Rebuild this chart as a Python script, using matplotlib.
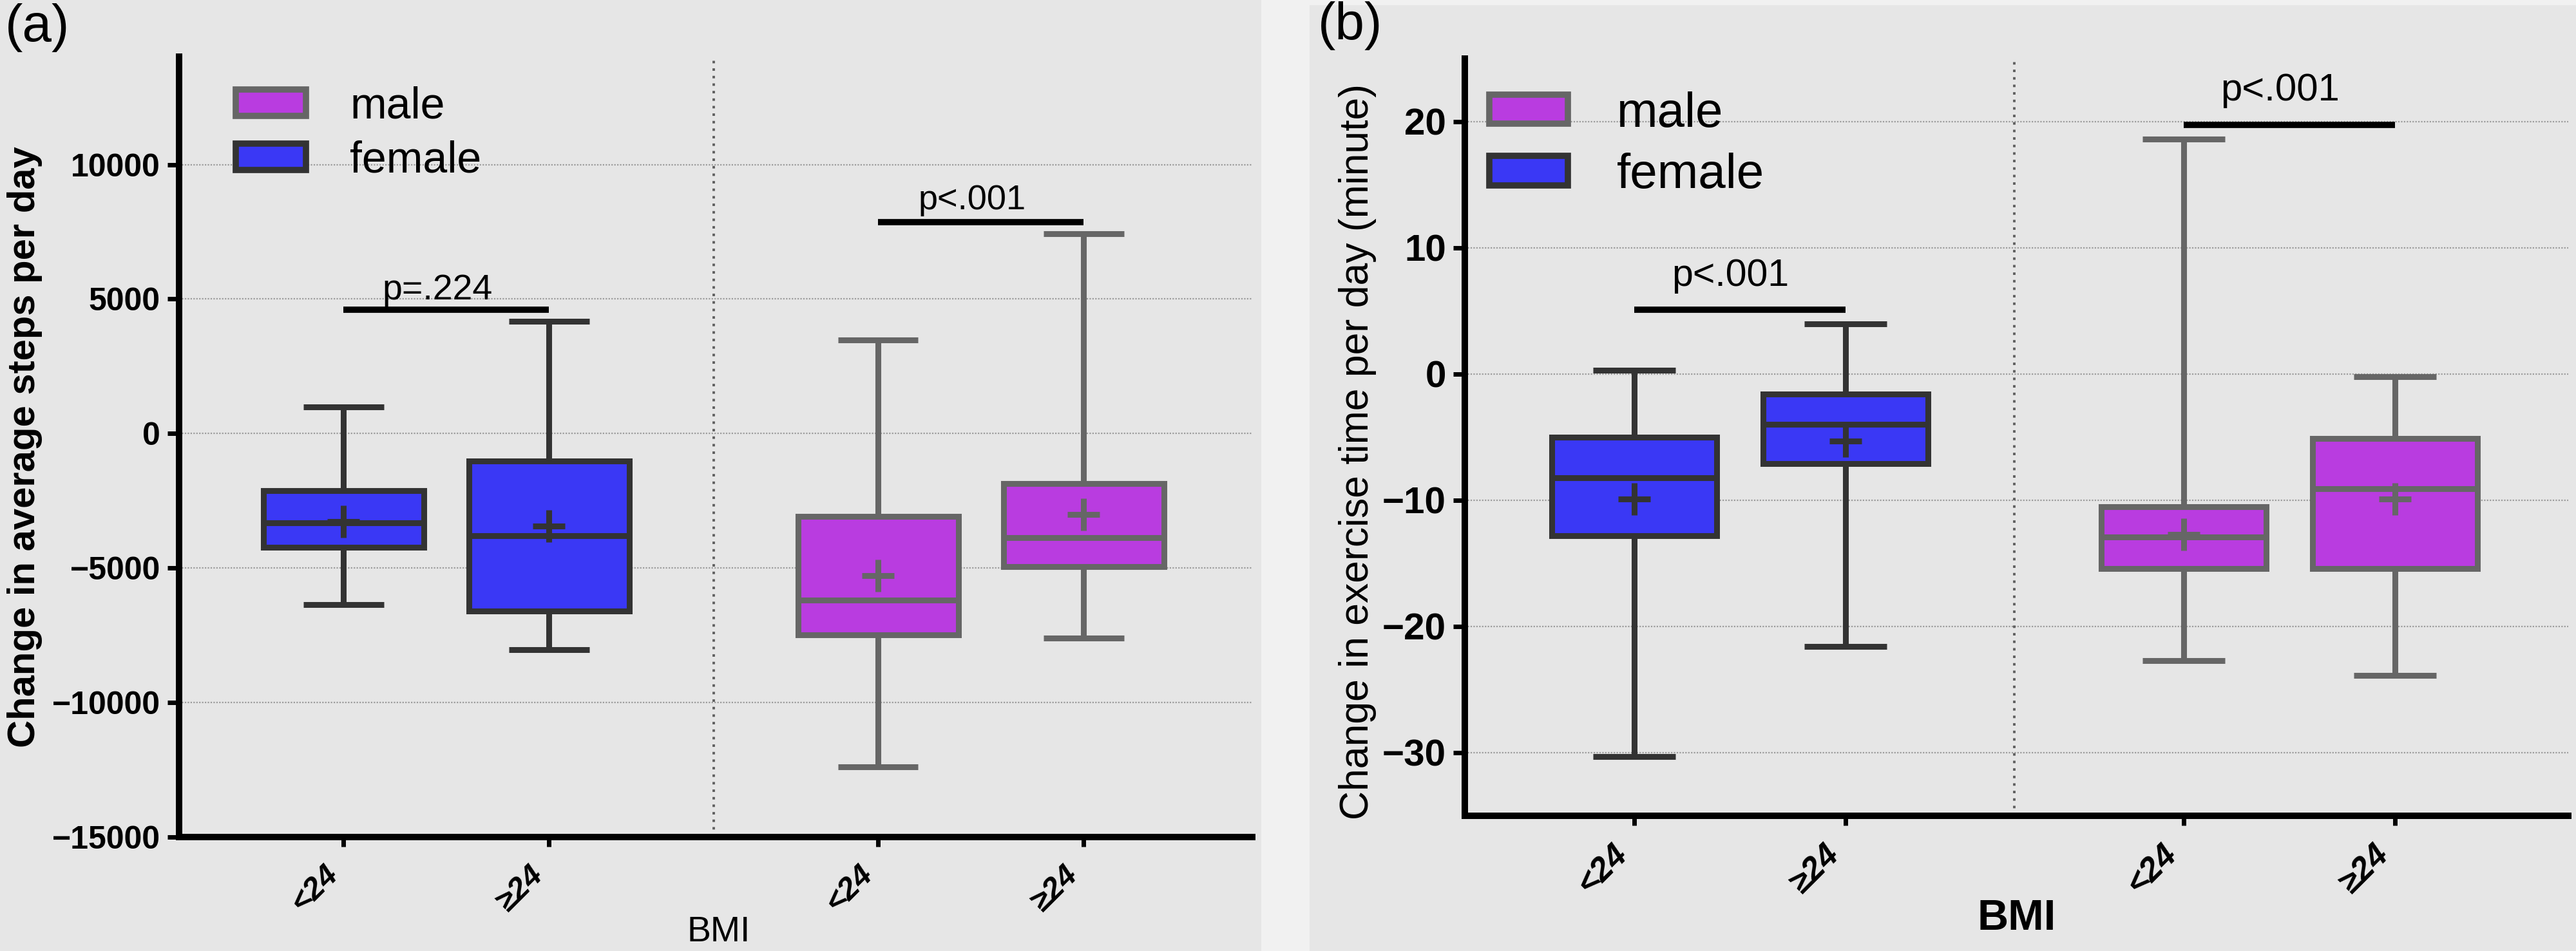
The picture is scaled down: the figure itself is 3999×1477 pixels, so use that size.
import matplotlib
matplotlib.use('Agg')
import matplotlib.pyplot as plt
import matplotlib.transforms as mtransforms
from matplotlib.patches import Patch, Rectangle

plt.rcParams['font.family'] = ['Liberation Sans', 'DejaVu Sans']

# each box: [whisker low, Q1, median, Q3, whisker high, mean]
bmi_labels = ['<24', '≥24', '<24', '≥24']

steps_female = [[-6350, -4220, -3330, -2130, 1000, -3260],
                [-8030, -6600, -3790, -1010, 4170, -3430]]
steps_male = [[-12400, -7480, -6190, -3070, 3480, -5280],
              [-7600, -4940, -3870, -1850, 7420, -3010]]
steps_sig_y = [4600, 7870]
steps_sig_text = ['p=.224', 'p<.001']

minutes_female = [[-30.3, -12.8, -8.2, -5.0, 0.3, -9.9],
                  [-21.6, -7.1, -4.0, -1.6, 4.0, -5.3]]
minutes_male = [[-22.7, -15.4, -12.9, -10.5, 18.6, -12.7],
                [-23.9, -15.4, -9.1, -5.1, -0.2, -9.9]]
minutes_sig_y = [5.1, 19.75]
minutes_sig_text = ['p<.001', 'p<.001']

BLUE = '#3a38f5'
PURPLE = '#b93ce0'
EDGE_F = '#333333'
EDGE_M = '#666666'
LW = 6.5

pos_f = [0, 1]
pos_m = [2.6, 3.6]

W, H = 3999, 1477
fig = plt.figure(figsize=(W / 100, H / 100), dpi=100)
fig.patch.set_facecolor('#f1f1f1')
fig.add_artist(Rectangle((0, 0), 1958 / W, 1, transform=fig.transFigure,
                         facecolor='#e6e6e6', edgecolor='none', zorder=-10))
fig.add_artist(Rectangle((2033 / W, 0), 1 - 2033 / W, 1 - 8 / H, transform=fig.transFigure,
                         facecolor='#e6e6e6', edgecolor='none', zorder=-10))

ax1 = fig.add_axes([278 / W, 1 - 1300 / H, (1944 - 278) / W, (1300 - 88.5) / H])
ax2 = fig.add_axes([2274 / W, 1 - 1267 / H, (3987 - 2274) / W, (1267 - 91) / H])


def draw_boxes(ax, data, pos, face, edge):
    stats = [dict(whislo=d[0], q1=d[1], med=d[2], q3=d[3], whishi=d[4], mean=d[5], fliers=[])
             for d in data]
    ax.bxp(stats, positions=pos, widths=0.78, capwidths=0.39, patch_artist=True,
           showmeans=True, manage_ticks=False,
           boxprops=dict(facecolor=face, edgecolor=edge, linewidth=LW),
           medianprops=dict(color=edge, linewidth=LW, solid_capstyle='butt'),
           whiskerprops=dict(color=edge, linewidth=LW, solid_capstyle='butt'),
           capprops=dict(color=edge, linewidth=LW, solid_capstyle='butt'),
           meanprops=dict(marker='+', markersize=36, markeredgewidth=LW,
                          markeredgecolor=edge))


def style_panel(ax, female, male, sig_y, sig_text, ylim, yticks, tick_fs, xt_fs,
                sig_fs, sig_dy, leg_fs, leg_anchor, leg_h, leg_sp):
    ax.set_facecolor('none')
    draw_boxes(ax, female, pos_f, BLUE, EDGE_F)
    draw_boxes(ax, male, pos_m, PURPLE, EDGE_M)
    ax.set_xlim(-0.8, 4.42)
    ax.set_ylim(*ylim)
    ax.set_yticks(yticks)
    ax.set_xticks(pos_f + pos_m)
    ax.set_xticklabels(bmi_labels, rotation=45, ha='right', fontsize=xt_fs,
                       fontweight='bold', fontstyle='italic')
    shift = mtransforms.ScaledTranslation(0.16, 0, fig.dpi_scale_trans)
    for lab in ax.get_xticklabels():
        lab.set_transform(lab.get_transform() + shift)
    for lab in ax.get_yticklabels():
        lab.set_fontweight('bold')
        lab.set_fontsize(tick_fs)
    ax.tick_params(axis='y', length=13, width=5, pad=8, color='black')
    ax.tick_params(axis='x', length=11, width=5, pad=14, color='black')
    for s in ['top', 'right']:
        ax.spines[s].set_visible(False)
    for s in ['left', 'bottom']:
        ax.spines[s].set_linewidth(7.2)
    ax.set_axisbelow(True)
    ax.yaxis.grid(True, linestyle=(0, (1, 1)), linewidth=1.6, color='#9c9c9c')
    ax.axvline(1.8, color='#606060', linestyle=(0, (1, 2)), linewidth=2.8, zorder=1)

    # significance bars between BMI groups
    for (x0, x1), y, txt, fs, dy in zip([pos_f, pos_m], sig_y, sig_text, sig_fs, sig_dy):
        ax.plot([x0, x1], [y, y], color='black', linewidth=7, solid_capstyle='butt', zorder=5)
        ax.annotate(txt, xy=((x0 + x1) / 2, y), xytext=(-10, dy), textcoords='offset points',
                    ha='center', va='baseline', fontsize=fs)

    handles = [Patch(facecolor=PURPLE, edgecolor=EDGE_M, linewidth=7, label='male'),
               Patch(facecolor=BLUE, edgecolor=EDGE_F, linewidth=7, label='female')]
    ax.legend(handles=handles, loc='upper left', bbox_to_anchor=leg_anchor, frameon=False,
              fontsize=leg_fs, handlelength=1.6, handleheight=leg_h, borderpad=0,
              borderaxespad=0, labelspacing=leg_sp, handletextpad=1.0)


style_panel(ax1, steps_female, steps_male, steps_sig_y, steps_sig_text,
            (-15000, 14000), range(-15000, 10001, 5000), 36, 35,
            [40, 39], [12, 14], 49, (0.053, 0.963), 0.56, 0.3)
style_panel(ax2, minutes_female, minutes_male, minutes_sig_y, minutes_sig_text,
            (-35, 25), range(-30, 21, 10), 42, 37,
            [42.5, 43], [27, 27], 55, (0.022, 0.957), 0.54, 0.32)

ax1.set_ylabel('Change in average steps per day', fontsize=43, fontweight='bold')
ax1.yaxis.set_label_coords(-0.127, 0.5)
ax1.set_xlabel('BMI', fontsize=40)
ax1.xaxis.set_label_coords(0.503, -0.101)

ax2.set_ylabel('Change in exercise time per day (minute)', fontsize=45)
ax2.yaxis.set_label_coords(-0.08, 0.481)
ax2.set_xlabel('BMI', fontsize=48, fontweight='bold')
ax2.xaxis.set_label_coords(0.5, -0.11)

fig.text(8 / W, 1 - 5 / H, '(a)', fontsize=59, ha='left', va='top')
fig.text(2046 / W, 1 - 2 / H, '(b)', fontsize=59, ha='left', va='top')

fig.savefig('out.png', dpi=100, facecolor=fig.get_facecolor())
